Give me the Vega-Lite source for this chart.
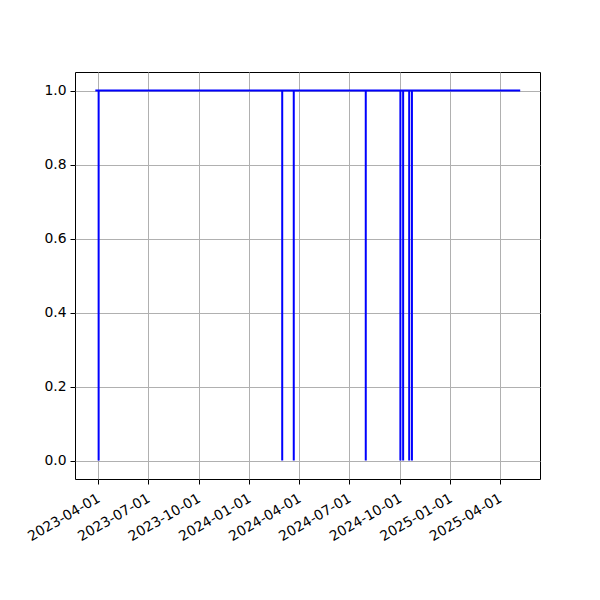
{
  "$schema": "https://vega.github.io/schema/vega-lite/v6.json",
  "width": 465,
  "height": 407,
  "autosize": "none",
  "padding": {"left": 75, "top": 72, "right": 60, "bottom": 121},
  "background": "white",
  "config": {
    "view": {"stroke": "black", "strokeWidth": 1},
    "axis": {
      "labelFont": "DejaVu Sans",
      "labelFontSize": 13.9,
      "labelColor": "black",
      "tickColor": "black",
      "tickSize": 5,
      "tickWidth": 1,
      "domain": false,
      "gridColor": "#b0b0b0",
      "gridWidth": 1,
      "labelPadding": 4,
      "title": null
    }
  },
  "data": {
    "values": [
      {"i": 0, "date": "2023-03-27", "v": 1},
      {"i": 1, "date": "2023-04-02", "v": 1},
      {"i": 2, "date": "2023-04-02", "v": 0},
      {"i": 3, "date": "2023-04-02", "v": 1},
      {"i": 4, "date": "2024-03-01", "v": 1},
      {"i": 5, "date": "2024-03-01", "v": 0},
      {"i": 6, "date": "2024-03-01", "v": 1},
      {"i": 7, "date": "2024-03-22", "v": 1},
      {"i": 8, "date": "2024-03-22", "v": 0},
      {"i": 9, "date": "2024-03-22", "v": 1},
      {"i": 10, "date": "2024-07-31", "v": 1},
      {"i": 11, "date": "2024-07-31", "v": 0},
      {"i": 12, "date": "2024-07-31", "v": 1},
      {"i": 13, "date": "2024-10-02", "v": 1},
      {"i": 14, "date": "2024-10-02", "v": 0},
      {"i": 15, "date": "2024-10-02", "v": 1},
      {"i": 16, "date": "2024-10-07", "v": 1},
      {"i": 17, "date": "2024-10-07", "v": 0},
      {"i": 18, "date": "2024-10-07", "v": 1},
      {"i": 19, "date": "2024-10-18", "v": 1},
      {"i": 20, "date": "2024-10-18", "v": 0},
      {"i": 21, "date": "2024-10-18", "v": 1},
      {"i": 22, "date": "2024-10-23", "v": 1},
      {"i": 23, "date": "2024-10-23", "v": 0},
      {"i": 24, "date": "2024-10-23", "v": 1},
      {"i": 25, "date": "2025-05-08", "v": 1}
    ]
  },
  "mark": {"type": "line", "color": "blue", "strokeWidth": 2, "interpolate": "linear"},
  "encoding": {
    "x": {
      "field": "date",
      "type": "temporal",
      "scale": {
        "type": "utc",
        "domain": [
          {"year": 2023, "month": 2, "date": 18, "utc": true},
          {"year": 2025, "month": 6, "date": 13, "utc": true}
        ]
      },
      "axis": {
        "values": [
          {"year": 2023, "month": 4, "date": 1, "utc": true},
          {"year": 2023, "month": 7, "date": 1, "utc": true},
          {"year": 2023, "month": 10, "date": 1, "utc": true},
          {"year": 2024, "month": 1, "date": 1, "utc": true},
          {"year": 2024, "month": 4, "date": 1, "utc": true},
          {"year": 2024, "month": 7, "date": 1, "utc": true},
          {"year": 2024, "month": 10, "date": 1, "utc": true},
          {"year": 2025, "month": 1, "date": 1, "utc": true},
          {"year": 2025, "month": 4, "date": 1, "utc": true}
        ],
        "format": "%Y-%m-%d",
        "labelAngle": -30,
        "labelAlign": "right",
        "labelBaseline": "top",
        "labelOverlap": false,
        "labelFlush": false,
        "labelPadding": 7,
        "labelOffset": -3
      }
    },
    "y": {
      "field": "v",
      "type": "quantitative",
      "scale": {"domain": [-0.05, 1.05], "nice": false, "zero": false},
      "axis": {
        "values": [0, 0.2, 0.4, 0.6, 0.8, 1.0],
        "format": ".1f"
      }
    },
    "order": {"field": "i", "type": "quantitative"}
  }
}
